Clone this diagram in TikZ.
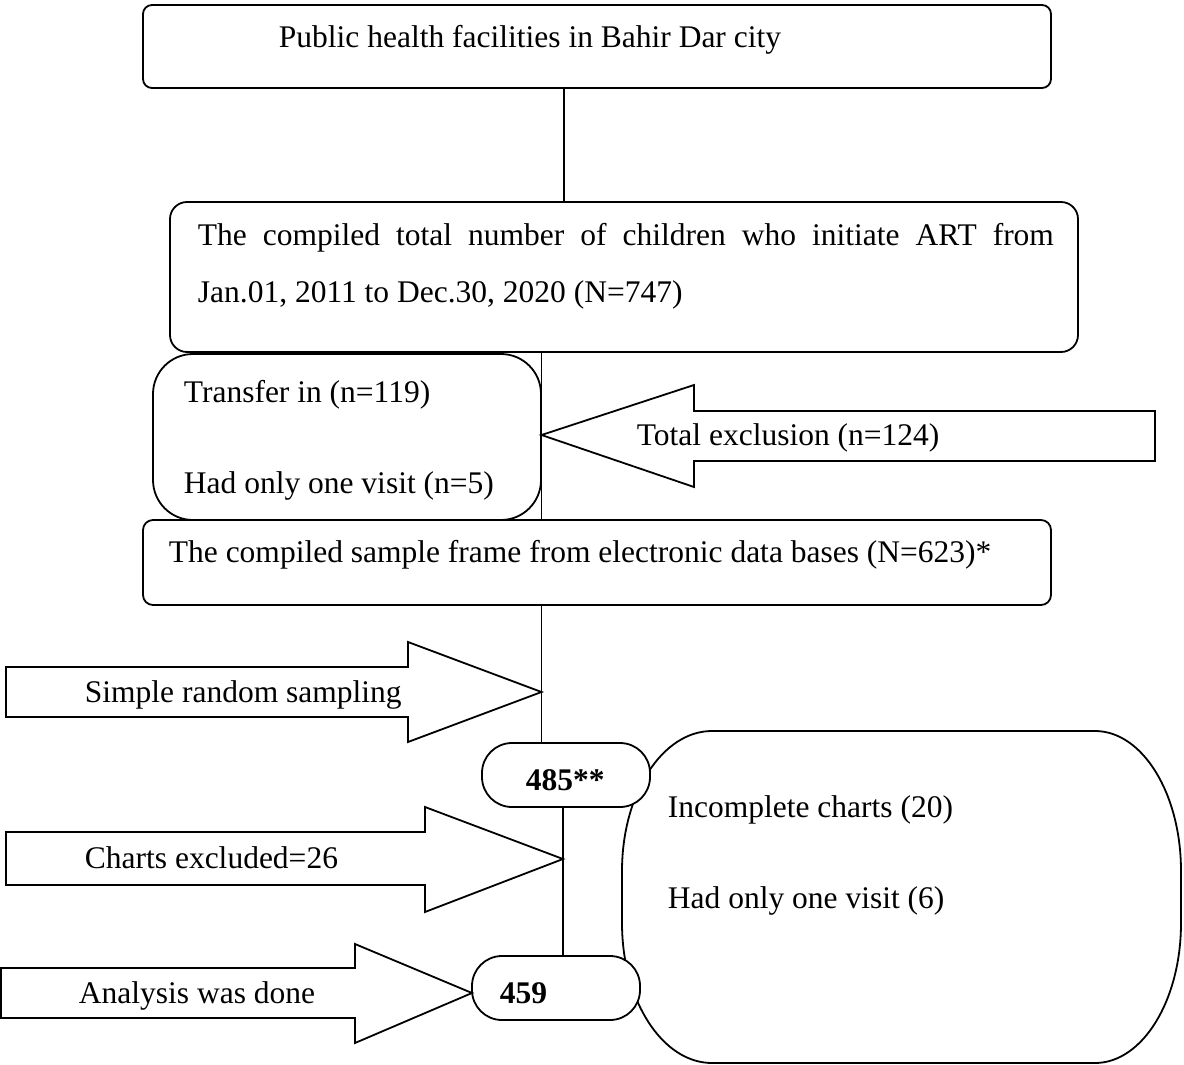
\documentclass[tikz,border=0pt]{standalone}
\usepackage{fontspec}
\setmainfont{Liberation Serif}
\newcommand\figfont{\fontsize{31.5pt}{38pt}\selectfont}
\begin{document}
\begin{tikzpicture}[x=1pt,y=-1pt, line width=1.8pt,
  box/.style={draw, fill=white, inner sep=0pt},
  lbl/.style={anchor=base west, inner sep=0pt, font=\figfont},
  blk/.style={draw, fill=white, line join=miter}]
\useasboundingbox (0,0) rectangle (1184,1065);

% big rounded box on the right
\draw[fill=white] (712,731) -- (1095,731)
  .. controls (1142.5,731) and (1181,793.7) .. (1181,871)
  -- (1181,923)
  .. controls (1181,1000.3) and (1142.5,1063) .. (1095,1063)
  -- (712,1063)
  .. controls (662.3,1063) and (622,1000.3) .. (622,923)
  -- (622,871)
  .. controls (622,793.7) and (662.3,731) .. (712,731) -- cycle;

% boxes
\node[box, rounded corners=9pt, minimum width=908pt, minimum height=83pt] (b1) at (597,46.5) {};
\node[box, rounded corners=17pt, minimum width=908pt, minimum height=150pt] (b2) at (624,277) {};
\node[box, rounded corners=40pt, minimum width=388pt, minimum height=166pt] (b3) at (347,437) {};
\node[box, rounded corners=10pt, minimum width=908pt, minimum height=85pt] (b4) at (597,562.5) {};
\node[box, rounded corners=30pt, minimum width=168pt, minimum height=64pt] (p485) at (566,775) {};
\node[box, rounded corners=30pt, minimum width=168pt, minimum height=64pt] (p459) at (556,988) {};

% connector x positions
\coordinate (x1) at (564,0);
\coordinate (x2) at (541.5,0);
\coordinate (x3) at (563,0);
\draw (b1.south -| x1) -- (b2.north -| x1);
\draw (b2.south -| x2) -- (b4.north -| x2);
\draw (b4.south -| x2) -- (p485.north -| x2);
\draw (p485.south -| x3) -- (p459.north -| x3);

% block arrows
\draw[blk] (541.5,435) -- (694,385) -- (694,411) -- (1155,411) -- (1155,461) -- (694,461) -- (694,487) -- cycle;
\draw[blk] (6,667) -- (408,667) -- (408,642) -- (541.5,692) -- (408,742) -- (408,717) -- (6,717) -- cycle;
\draw[blk] (6,832) -- (425,832) -- (425,807) -- (563,859) -- (425,912) -- (425,885) -- (6,885) -- cycle;
\draw[blk] (1,968) -- (355,968) -- (355,944) -- (472,993) -- (355,1043) -- (355,1018) -- (1,1018) -- cycle;

% texts
\node[lbl] (t1) at (278,48) {Public health facilities in Bahir Dar city};
\node[lbl] (t2a) at (197,245) {\makebox[856pt][s]{The compiled total number of children who initiate ART from}};
\node[lbl] (t2b) at (197,302) {Jan.01, 2011 to Dec.30, 2020 (N=747)};
\node[lbl] (t3a) at (183,402) {Transfer in (n=119)};
\node[lbl] (t3b) at (183,493) {Had only one visit (n=5)};
\node[lbl] (tex) at (636,445) {Total exclusion (n=124)};
\node[lbl] (t4) at (168,562) {The compiled sample frame from electronic data bases (N=623)*};
\node[lbl] (ts) at (84,702) {Simple random sampling};
\node[lbl, font=\figfont\bfseries] (t485) at (525,790) {485**};
\node[lbl] (tc) at (84,868) {Charts excluded=26};
\node[lbl] (tb1) at (667,817) {Incomplete charts (20)};
\node[lbl] (tb2) at (667,908) {Had only one visit (6)};
\node[lbl] (ta) at (78,1003) {Analysis was done};
\node[lbl, font=\figfont\bfseries] (t459) at (499,1003) {459};
\end{tikzpicture}
\end{document}
